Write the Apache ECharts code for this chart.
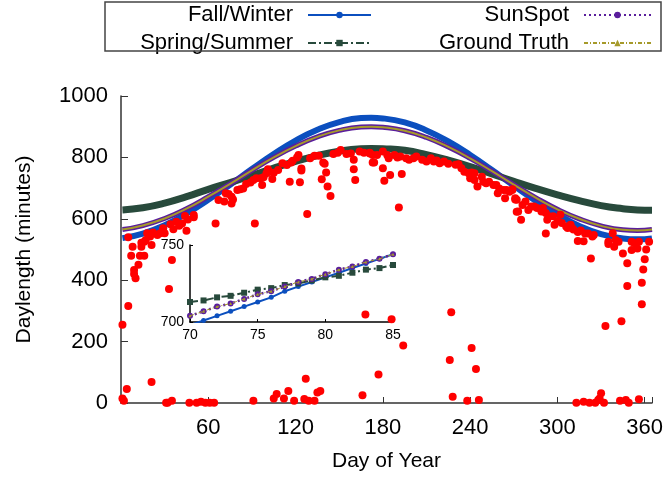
<!DOCTYPE html>
<html>
<head>
<meta charset="utf-8">
<script src="https://cdn.jsdelivr.net/npm/echarts@6/dist/echarts.min.js"></script>
<style>
  html, body { margin: 0; padding: 0; background: #fff; }
  #chart { width: 666px; height: 477px; }
</style>
</head>
<body>
<div id="chart"></div>
<script>
// model curves
const curveDays = [1, 15, 30, 45, 60, 75, 90, 105, 120, 135, 150, 165, 172, 180, 195, 210, 225, 240, 255, 270, 285, 300, 315, 330, 345, 355, 365];
const fallWinter = [537, 552, 579, 617, 662, 711, 762, 811, 855, 890, 915, 928, 929, 927, 914, 888, 852, 808, 759, 708, 659, 614, 577, 550, 536, 533, 536];
const springSummer = [629, 636, 651, 672, 696, 718, 741, 765, 787, 806, 820, 828, 829, 828, 823, 809, 791, 770, 746, 722, 699, 678, 659, 643, 633, 629, 628];
const sunSpot = [565, 578, 601, 633, 672, 714, 758, 800, 837, 867, 888, 899, 900, 898, 887, 865, 834, 797, 755, 711, 669, 631, 600, 577, 564, 562, 565];
const groundTruth = [565, 578, 601, 633, 672, 714, 758, 800, 837, 867, 888, 899, 900, 898, 887, 865, 834, 797, 755, 711, 669, 631, 600, 577, 564, 562, 565];

// inset, days 70-85
const insetDays = [70, 71, 72, 73, 74, 75, 76, 77, 78, 79, 80, 81, 82, 83, 84, 85];
const insetFall = [698, 701, 704, 707, 710, 713, 716, 720, 723, 726, 729, 732, 735, 738, 741, 744];
const insetSpring = [713, 714, 716, 717, 719, 721, 722, 724, 725, 727, 729, 730, 732, 734, 735, 737];
const insetSunSpot = [704, 707, 710, 712, 715, 718, 720, 723, 726, 728, 731, 734, 736, 739, 741, 744];
const insetGround = [704, 707, 710, 712, 715, 718, 720, 723, 726, 728, 731, 734, 736, 739, 741, 744];

// measured daylength [day, minutes]
const measured = [
  [5,540],[8,509],[7,480],[13,480],[16,480],[14,509],[9,433],[9,420],[10,406],[12,450],[35,466],[33,371],
  [5,316],[1,255],[21,68],[4,46],[1,15],[2,7],[35,7],[32,1],[31,1],[47,1],[52,1],[55,4],[58,1],[61,1],[64,1],
  [65,585],[67,661],[71,656],[45,561],[50,612],[50,605],[46,598],[44,609],[42,585],[38,590],[40,577],[36,566],
  [34,582],[29,569],[30,553],[27,553],[25,547],[22,555],[20,542],[18,553],[17,531],[14,522],[16,525],[21,515],
  [72,683],[74,681],[76,672],[76,650],[77,663],[80,694],[82,696],[84,699],[86,713],[89,718],[91,726],[93,732],
  [96,732],[98,735],[97,710],[92,585],[100,748],[102,753],[101,761],[105,750],[104,730],[108,759],[111,781],
  [114,775],[117,783],[118,789],[116,721],[123,719],[124,764],[124,757],[122,808],[121,800],[128,616],[130,797],
  [133,805],[136,805],[139,783],[140,779],[141,751],[138,729],[142,705],[144,674],[146,811],[149,815],[151,824],
  [155,811],[158,813],[160,792],[160,761],[161,726],[164,819],[167,815],[171,815],[173,783],
  [171,813],[173,808],[176,808],[180,819],[183,808],[184,797],[188,808],[190,800],[192,803],[196,797],[198,792],
  [201,797],[203,803],[207,792],[210,787],[213,797],[215,787],[217,790],[219,781],[222,787],[225,779],[230,776],
  [232,778],[174,783],[180,765],[181,724],[185,743],[193,746],[191,637],[234,765],[236,753],[239,748],[241,751],
  [243,748],[240,732],[243,726],[245,705],[248,737],[249,721],[251,716],[253,721],[256,710],[258,710],[260,699],
  [263,694],[265,694],[267,688],[269,696],[259,683],[264,667],[271,663],[272,623],
  [269,694],[271,667],[272,662],[273,624],[275,597],[276,645],[278,656],[280,629],[282,640],[284,640],[286,635],
  [289,624],[290,635],[292,619],[294,608],[293,597],[297,608],[298,581],[300,592],[302,613],[303,586],[306,575],
  [307,570],[309,581],[310,570],[311,565],[314,557],[314,528],[316,562],[318,527],[319,552],[321,552],[324,542],
  [325,547],[292,552],[338,553],[335,525],[340,531],[342,525],[339,509],[335,518],[323,471],[351,525],[353,520],
  [356,525],[355,503],[351,498],[345,487],[348,455],[348,381],[361,500],[363,525],[360,468],[359,435],[358,392],
  [358,322],[344,266],[333,251],
  [313,1],[318,4],[322,1],[326,1],[328,10],[329,15],[330,32],[332,1],[343,7],[347,10],[349,1],[356,12],
  [168,288],[186,273],[227,296],[194,187],[241,179],[226,140],[244,111],[177,93],[127,79],[166,25],[228,20],
  [238,7],[246,10],[91,7],[105,15],[107,29],[112,15],[115,39],[119,7],[126,13],[129,7],[133,7],[135,34],[137,39]
];

const BLUE = '#0b4fbf', GREEN = '#284a3c', PURPLE = '#5a1e9c', OLIVE = '#a69a2a';
const FONT = 'Liberation Sans, Arial, sans-serif';

function zip(xs, ys) {
    return xs.map((x, i) => [x, ys[i]]);
}

let myChart = echarts.init(document.getElementById('chart'), null, { renderer: 'canvas' });

function legendFor(name, right, top, width) {
    return {
        data: [name],
        right: right,
        top: top,
        padding: 0,
        align: 'right',
        itemWidth: width,
        itemHeight: 8,
        selectedMode: false,
        textStyle: { fontSize: 22, color: '#000', fontFamily: FONT, padding: [0, 10, 0, 0] }
    };
}

let options = {
    animation: false,
    backgroundColor: '#fff',
    textStyle: { fontFamily: FONT },
    legend: [
        legendFor('Fall/Winter', 294, 4, 63),
        legendFor('Spring/Summer', 294, 32, 63),
        legendFor('SunSpot', 14, 4, 67),
        legendFor('Ground Truth', 14, 32, 67)
    ],
    graphic: [{
        type: 'rect',
        shape: { x: 105, y: 2, width: 556, height: 49 },
        style: { fill: 'none', stroke: '#444', lineWidth: 1.5 },
        z: 100
    }],
    grid: [
        { left: 121, right: 14, top: 96, bottom: 74, outerBoundsMode: 'none' },
        { left: 190, top: 245, width: 203, height: 77, outerBoundsMode: 'none' }
    ],
    xAxis: [{
        type: 'value',
        gridIndex: 0,
        min: 0,
        max: 365,
        interval: 60,
        name: 'Day of Year',
        nameLocation: 'middle',
        nameGap: 48,
        nameTextStyle: { fontSize: 21, color: '#000' },
        axisLine: { lineStyle: { color: '#333', width: 1.5 } },
        axisTick: { inside: true, length: 6, lineStyle: { color: '#333' } },
        axisLabel: {
            fontSize: 22, color: '#000', margin: 14,
            formatter: function (v) { return (v > 0 && v % 60 === 0) ? String(v) : ''; }
        },
        splitLine: { show: false }
    }, {
        type: 'value',
        gridIndex: 1,
        min: 70,
        max: 85,
        interval: 5,
        axisLine: { lineStyle: { color: '#000', width: 1.5 } },
        axisTick: { inside: true, length: 3, lineStyle: { color: '#000' } },
        axisLabel: { fontSize: 14, color: '#000', margin: 6 },
        splitLine: { show: false }
    }],
    yAxis: [{
        type: 'value',
        gridIndex: 0,
        min: 0,
        max: 1000,
        interval: 200,
        name: 'Daylength (minutes)',
        nameLocation: 'middle',
        nameGap: 86,
        nameTextStyle: { fontSize: 21, color: '#000' },
        axisLine: { show: true, lineStyle: { color: '#333', width: 1.5 } },
        axisTick: { show: true, inside: true, length: 7, lineStyle: { color: '#333' } },
        axisLabel: {
            fontSize: 22, color: '#000', margin: 13,
            formatter: function (v) { return String(v); }
        },
        splitLine: { show: false }
    }, {
        type: 'value',
        gridIndex: 1,
        min: 700,
        max: 750,
        interval: 50,
        axisLine: { show: true, lineStyle: { color: '#000', width: 1.5 } },
        axisTick: { show: true, inside: true, length: 3, lineStyle: { color: '#000' } },
        axisLabel: { fontSize: 14, color: '#000', margin: 6 },
        splitLine: { show: false }
    }],
    series: [
        // inset series first so the legend picks up their markers
        {
            name: 'Fall/Winter', type: 'line', xAxisIndex: 1, yAxisIndex: 1, z: 5,
            data: zip(insetDays, insetFall),
            symbol: 'circle', symbolSize: 5,
            itemStyle: { color: BLUE },
            lineStyle: { color: BLUE, width: 2 }
        },
        {
            name: 'Spring/Summer', type: 'line', xAxisIndex: 1, yAxisIndex: 1, z: 5,
            data: zip(insetDays, insetSpring),
            symbol: 'rect', symbolSize: 6,
            itemStyle: { color: GREEN },
            lineStyle: { color: GREEN, width: 2, type: [8, 3, 2, 3] }
        },
        {
            name: 'SunSpot', type: 'line', xAxisIndex: 1, yAxisIndex: 1, z: 5,
            data: zip(insetDays, insetSunSpot),
            symbol: 'circle', symbolSize: 6,
            itemStyle: { color: PURPLE },
            lineStyle: { color: PURPLE, width: 2.5, type: [2, 3] }
        },
        {
            name: 'Ground Truth', type: 'line', xAxisIndex: 1, yAxisIndex: 1, z: 6,
            data: zip(insetDays, insetGround),
            symbol: 'triangle', symbolSize: 3,
            itemStyle: { color: OLIVE },
            lineStyle: { color: OLIVE, width: 1, type: [4, 2, 1, 2] }
        },
        // main plot
        {
            name: 'Fall/Winter', type: 'line', xAxisIndex: 0, yAxisIndex: 0, z: 2,
            data: zip(curveDays, fallWinter), smooth: true, showSymbol: false,
            lineStyle: { color: BLUE, width: 6 }
        },
        {
            name: 'Spring/Summer', type: 'line', xAxisIndex: 0, yAxisIndex: 0, z: 2,
            data: zip(curveDays, springSummer), smooth: true, showSymbol: false,
            lineStyle: { color: GREEN, width: 7 }
        },
        {
            name: 'SunSpot', type: 'line', xAxisIndex: 0, yAxisIndex: 0, z: 2,
            data: zip(curveDays, sunSpot), smooth: true, showSymbol: false,
            lineStyle: { color: PURPLE, width: 5 }
        },
        {
            name: 'Ground Truth', type: 'line', xAxisIndex: 0, yAxisIndex: 0, z: 2,
            data: zip(curveDays, groundTruth), smooth: true, showSymbol: false,
            lineStyle: { color: OLIVE, width: 2 }
        },
        {
            name: 'Measured', type: 'scatter', xAxisIndex: 0, yAxisIndex: 0, z: 3,
            data: measured, symbolSize: 8,
            itemStyle: { color: '#ff0000', opacity: 1 }
        }
    ]
};

myChart.setOption(options);
</script>
</body>
</html>
